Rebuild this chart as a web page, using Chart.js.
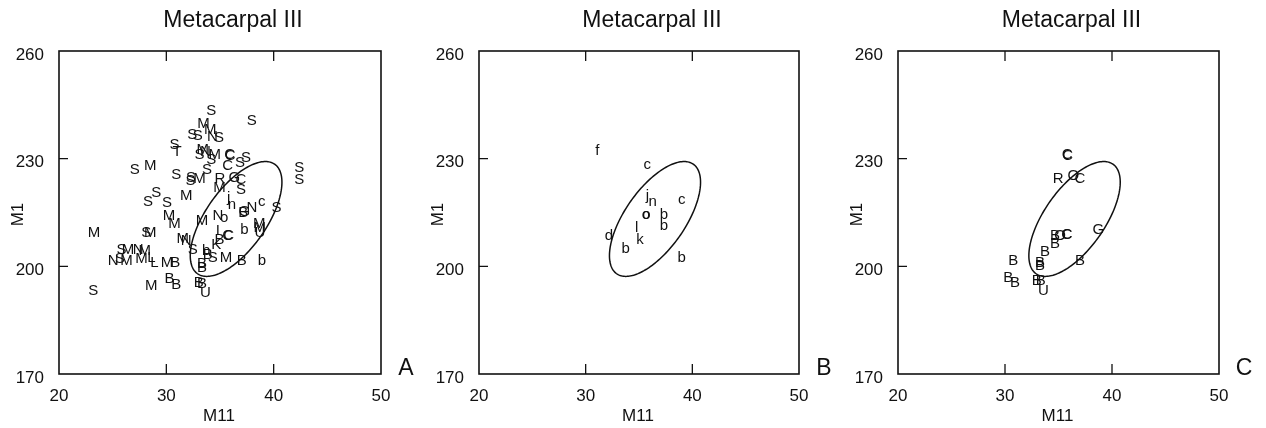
<!DOCTYPE html>
<html>
<head>
<meta charset="utf-8">
<script src="https://cdn.jsdelivr.net/npm/chart.js@4.4.1/dist/chart.umd.min.js"></script>
<style>
  html, body { margin:0; padding:0; background:#fff; width:1266px; height:428px; overflow:hidden; }
  canvas { position:absolute; top:0; }
</style>
</head>
<body>
<canvas id="cA"></canvas>
<canvas id="cB"></canvas>
<canvas id="cC"></canvas>
<script>
// ---------- text ----------
const panelTitle = "Metacarpal III";
const xAxisTitle = "M11";
const yAxisTitle = "M1";
const panelNames = ["A", "B", "C"];

// ---------- ticks ----------
const xTicks = [20, 30, 40, 50];
const yTicks = [170, 200, 230, 260];

// ---------- panel A ----------
const lettersA = ["S","S","M","M","S","S","N","S","S","T","M","S","N","M","S","C","C","S","S","C",
                  "S","M","S","S","S","M","S","R","G","C","M","S","S","S","S","M","j","n","c","S",
                  "N","B","G","S","S","M","M","M","S","M","M","N","o","b","M","U","M","I","C","C",
                  "B","K","M","N","S","b","B","S","M","B","b","B","B","S","M","N","M","M","L","L",
                  "M","B","N","S","M","M","B","B","B","B","U","S"];
const xA = [34.18,37.95,33.46,34.08,32.41,32.93,34.30,34.90,30.77,30.99,33.40,33.09,33.65,34.50,34.18,35.90,35.95,36.87,37.43,35.72,
            27.06,28.50,30.92,32.30,32.25,33.09,33.80,35.00,36.34,36.96,34.95,36.96,28.29,29.07,30.06,31.85,35.81,36.12,38.90,40.27,
            37.98,37.17,37.27,42.38,42.38,30.24,30.77,23.25,28.14,28.50,33.33,34.80,35.40,37.27,38.66,38.72,38.70,34.80,35.72,35.80,
            34.95,34.64,31.54,31.85,32.47,33.70,33.86,34.33,35.57,37.02,38.90,33.33,33.33,25.82,26.43,27.37,27.98,27.68,28.60,28.90,
            30.06,30.83,25.04,25.66,26.28,28.60,30.30,30.92,33.03,33.33,33.65,23.18];
const yA = [243.4,240.6,239.7,238.1,236.7,236.4,236.2,235.7,233.9,231.8,232.5,231.1,232.0,231.1,229.7,231.1,230.9,228.8,230.2,227.9,
            227.0,227.9,225.6,224.6,223.8,224.4,227.0,224.4,224.6,224.2,221.9,221.4,218.1,220.5,217.7,219.5,219.1,217.2,218.1,216.3,
            216.3,214.9,215.2,227.4,224.2,214.0,211.7,209.4,209.4,209.4,212.6,214.0,213.5,210.3,211.7,209.4,210.8,209.8,208.4,208.6,
            207.5,206.1,207.7,207.0,204.7,204.2,203.3,202.4,202.4,201.5,201.5,200.6,199.6,204.7,204.7,204.7,204.2,202.0,202.4,201.0,
            201.0,201.0,201.5,202.0,201.5,194.5,196.4,194.7,195.3,195.0,192.7,193.1];

// ---------- panel B ----------
const lettersB = ["f","c","j","n","c","o","o","b","b","l","k","d","b","b"];
const xB = [31.09,35.78,35.78,36.28,39.00,35.65,35.70,37.34,37.34,34.78,35.09,32.18,33.75,39.00];
const yB = [232.3,228.3,219.5,217.9,218.6,214.4,214.3,214.4,211.2,210.7,207.5,208.6,204.9,202.4];

// ---------- panel C ----------
const lettersC = ["C","C","R","O","C","G","B","O","C","C","B","B","B","B","B","B","B","B","B","B","U"];
const xC = [35.82,35.86,34.98,36.39,37.01,38.72,34.67,35.14,35.77,35.82,34.67,33.74,37.01,30.78,33.27,33.27,30.31,30.93,32.96,33.33,33.58];
const yC = [231.1,230.9,224.4,225.1,224.4,210.1,208.4,208.4,208.9,208.7,206.4,204.0,201.5,201.5,201.0,200.1,196.9,195.5,195.9,195.9,193.1];

// ---------- reference ellipse (centre, spread, correlation) ----------
const ellipseCenter = [36.5, 213.2];
const ellipseSpread = [4.27, 16.0];
const ellipseCorr = [0.64];

const FONT = "'Liberation Sans', Arial, sans-serif";
const INK = "#111";

const decorPlugin = {
  id: 'decor',
  afterDatasetsDraw(chart, args, opts) {
    const ctx = chart.ctx;
    const a = chart.chartArea;
    const xs = chart.scales.x, ys = chart.scales.y;
    ctx.save();
    ctx.strokeStyle = INK;
    ctx.fillStyle = INK;

    // ellipse
    const r = ellipseCorr[0], s = Math.sqrt(1 - r * r);
    ctx.beginPath();
    const N = 180;
    for (let k = 0; k <= N; k++) {
      const t = 2 * Math.PI * k / N;
      const vx = ellipseCenter[0] + ellipseSpread[0] * Math.cos(t);
      const vy = ellipseCenter[1] + ellipseSpread[1] * (r * Math.cos(t) + s * Math.sin(t));
      const px = xs.getPixelForValue(vx), py = ys.getPixelForValue(vy);
      if (k === 0) ctx.moveTo(px, py); else ctx.lineTo(px, py);
    }
    ctx.closePath();
    ctx.lineWidth = 1.5;
    ctx.stroke();

    // letters at points
    ctx.font = "15px " + FONT;
    ctx.textAlign = 'center';
    ctx.textBaseline = 'middle';
    const meta = chart.getDatasetMeta(0);
    meta.data.forEach((el, i) => {
      ctx.fillText(opts.letters[i], el.x, el.y);
    });

    // frame
    ctx.lineWidth = 1.6;
    ctx.strokeRect(a.left, a.top, a.right - a.left, a.bottom - a.top);

    // inner ticks
    ctx.lineWidth = 1.3;
    ctx.beginPath();
    xTicks.slice(1, -1).forEach(v => {
      const px = xs.getPixelForValue(v);
      ctx.moveTo(px, a.bottom); ctx.lineTo(px, a.bottom - 10);
      ctx.moveTo(px, a.top); ctx.lineTo(px, a.top + 10);
    });
    yTicks.slice(1, -1).forEach(v => {
      const py = ys.getPixelForValue(v);
      ctx.moveTo(a.left, py); ctx.lineTo(a.left + 9, py);
    });
    ctx.stroke();

    // title
    const cx = (a.left + a.right) / 2;
    ctx.textBaseline = 'alphabetic';
    ctx.textAlign = 'center';
    ctx.font = "23px " + FONT;
    ctx.fillText(panelTitle, cx + 13, 27);

    // x axis title
    ctx.font = "17px " + FONT;
    ctx.fillText(xAxisTitle, cx - 1, 421);

    // y axis title
    ctx.save();
    ctx.translate(23, (a.top + a.bottom) / 2 + 2);
    ctx.rotate(-Math.PI / 2);
    ctx.fillText(yAxisTitle, 0, 0);
    ctx.restore();

    // panel letter
    ctx.font = "23px " + FONT;
    ctx.fillText(opts.name, a.right + 25, a.bottom + 1);
    ctx.restore();
  }
};

const panels = [
  { id: 'cA', left: 0,   plotW: 322, letters: lettersA, xs: xA, ys: yA, name: panelNames[0] },
  { id: 'cB', left: 420, plotW: 320, letters: lettersB, xs: xB, ys: yB, name: panelNames[1] },
  { id: 'cC', left: 839, plotW: 321, letters: lettersC, xs: xC, ys: yC, name: panelNames[2] }
];

panels.forEach(p => {
  const cv = document.getElementById(p.id);
  const w = 59 + p.plotW + 46;
  cv.width = w; cv.height = 428;
  cv.style.left = p.left + 'px';
  cv.style.width = w + 'px'; cv.style.height = '428px';
  new Chart(cv, {
    type: 'scatter',
    data: {
      datasets: [{
        data: p.xs.map((x, i) => ({ x: x, y: p.ys[i] })),
        pointRadius: 0, pointHoverRadius: 0, showLine: false
      }]
    },
    options: {
      responsive: false,
      animation: false,
      devicePixelRatio: 1,
      events: [],
      layout: { padding: { left: 0, top: 51, right: 46, bottom: 0 } },
      plugins: {
        legend: { display: false },
        title: { display: false },
        tooltip: { enabled: false },
        decor: { letters: p.letters, name: p.name }
      },
      scales: {
        x: {
          type: 'linear', position: 'bottom', min: 20, max: 50,
          grid: { display: false }, border: { display: false },
          afterBuildTicks: s => { s.ticks = xTicks.map(v => ({ value: v })); },
          afterFit: s => { s.height = 54; },
          ticks: { font: { size: 17, family: FONT }, color: INK, padding: 4, maxRotation: 0, autoSkip: false }
        },
        y: {
          type: 'linear', position: 'left', min: 170, max: 260,
          grid: { display: false }, border: { display: false },
          afterBuildTicks: s => { s.ticks = yTicks.map(v => ({ value: v })); },
          afterFit: s => { s.width = 59; },
          ticks: { font: { size: 17, family: FONT }, color: INK, padding: 7, labelOffset: 4, autoSkip: false }
        }
      }
    },
    plugins: [decorPlugin]
  });
});
</script>
</body>
</html>
